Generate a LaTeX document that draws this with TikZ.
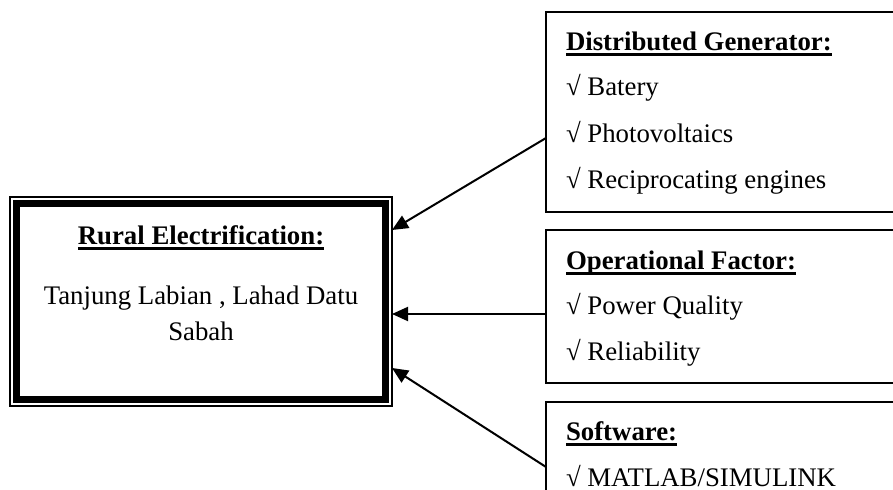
\documentclass[tikz,border=0pt]{standalone}
\usepackage{fontspec}
\setmainfont{Liberation Serif}
\usetikzlibrary{arrows.meta}
% bold heading with an underline at a fixed depth
\newcommand\hdr[1]{\setbox0\hbox{\bfseries #1}\rlap{\rule[-2.3pt]{\wd0}{1.1pt}}\box0}
\begin{document}
\begin{tikzpicture}[x=0.5pt,y=-0.5pt,
  font=\fontsize{13.4}{18}\selectfont,
  txt/.style={inner sep=0pt, outer sep=0pt},
  side/.style={draw, line width=1pt, inner sep=0pt, outer sep=0pt,
    minimum width=179.5pt, anchor=north west},
  arr/.style={line width=1pt, -{Triangle[length=8pt,width=7pt]}}]
\useasboundingbox (0,0) rectangle (893,490);
\clip (0,0) rectangle (893,490);

% central box with a thin outer frame and a heavy inner frame
\node[draw, line width=0.8pt, inner sep=0pt, outer sep=0pt,
      minimum width=191pt, minimum height=104.5pt] (rural) at (201,301.5) {};
\draw[line width=3.5pt]
  ([shift={(6.7,6.7)}]rural.north west) rectangle ([shift={(-6.7,-6.7)}]rural.south east);
\node[txt, anchor=base] (rt) at (201,245) {\hdr{Rural Electrification:}};
\node[txt, anchor=base] (r1) at (201,305) {Tanjung Labian , Lahad Datu};
\node[txt, anchor=base] (r2) at (201,341) {Sabah};

% boxes on the right
\node[side, minimum height=100pt] (dg) at (546,12) {};
\node[side, minimum height=76.5pt] (op) at (546,230) {};
\node[side, minimum height=79pt] (sw) at (546,402) {};

\node[txt, anchor=base west] (dgt) at (566,51) {\hdr{Distributed Generator:}};
\node[txt, anchor=base west] (dg1) at (566,96) {√ Batery};
\node[txt, anchor=base west] (dg2) at (566,143) {√ Photovoltaics};
\node[txt, anchor=base west] (dg3) at (566,189) {√ Reciprocating engines};

\node[txt, anchor=base west] (opt) at (566,270) {\hdr{Operational Factor:}};
\node[txt, anchor=base west] (op1) at (566,315) {√ Power Quality};
\node[txt, anchor=base west] (op2) at (566,361) {√ Reliability};

\node[txt, anchor=base west] (swt) at (566,441) {\hdr{Software:}};
\node[txt, anchor=base west] (sw1) at (566,487) {√ MATLAB/SIMULINK};

% connectors into the central box
\draw[arr] ([yshift=-13pt]dg.west) -- ([yshift=35.75pt]rural.east);
\draw[arr] ([yshift=-3.75pt]op.west) -- ([yshift=-6.25pt]rural.east);
\draw[arr] ([yshift=7pt]sw.west) -- ([yshift=-33.25pt]rural.east);
\end{tikzpicture}
\end{document}
